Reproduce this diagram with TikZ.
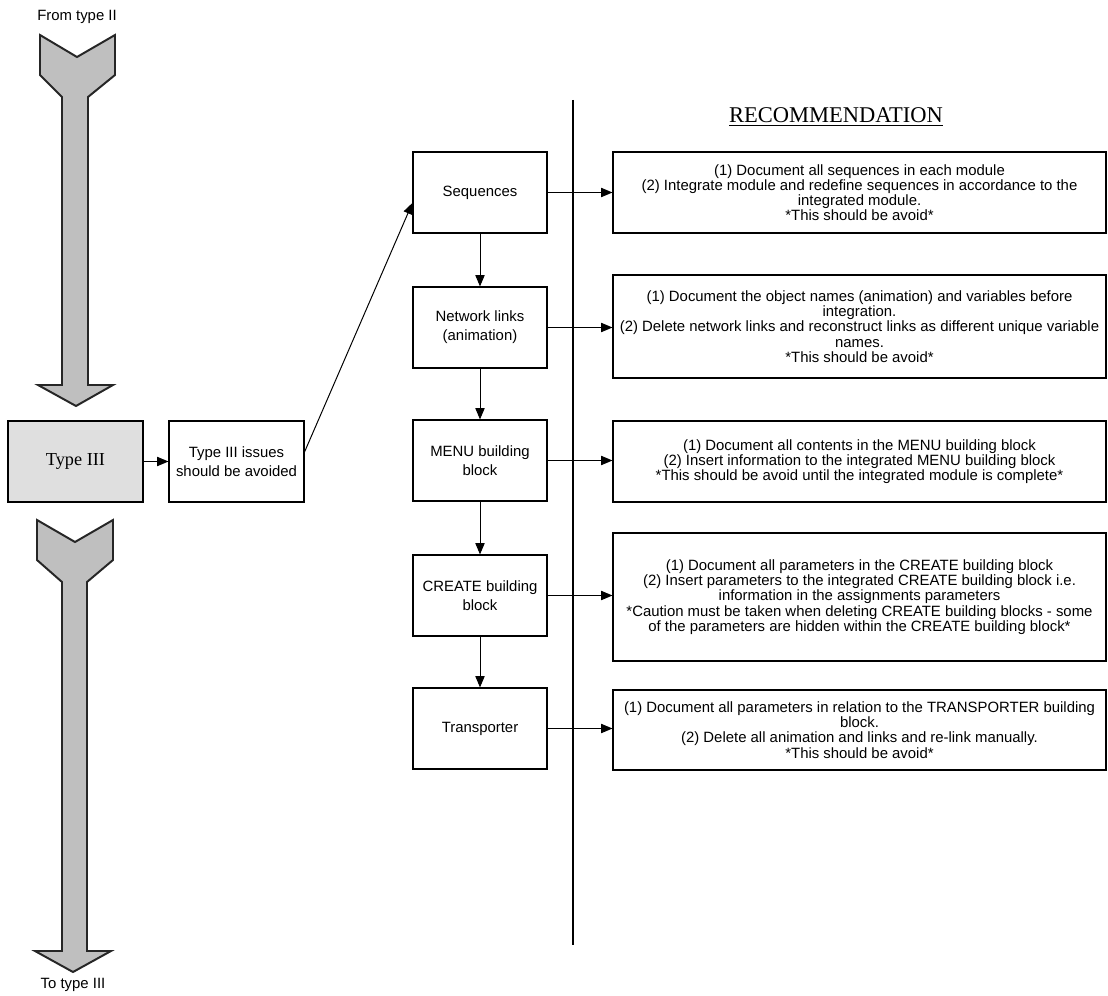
\documentclass[tikz,border=0pt]{standalone}
\usepackage{fontspec}
\setmainfont{Liberation Sans}
\newfontfamily\romanfont{Liberation Serif}
\usetikzlibrary{arrows.meta,calc}

\begin{document}
\begin{tikzpicture}[x=0.25mm,y=-0.25mm,
	conn/.style={-{Triangle[length=2.8mm,width=2.3mm]},line width=0.7pt},
	blk/.style={draw,line width=0.8pt,minimum width=33.5mm,minimum height=20.25mm,align=center,inner sep=1mm,font=\fontsize{10.6}{13.5}\selectfont},
	rec/.style={draw,line width=0.8pt,minimum width=123.25mm,align=center,inner sep=1mm,font=\fontsize{10.6}{10.8}\selectfont},
	bigarrow/.style={draw=black!85,line width=1.4pt,fill=gray!50,line join=miter}]
	\useasboundingbox (0,0) rectangle (1108,996);
%
	% the two wide arrows on the left
	\draw[bigarrow] (40,35) -- (77,57) -- (115,35) -- (115,75) -- (88,97) -- (88,385) -- (113,385)
		-- (76,406) -- (38,385) -- (62,385) -- (62,97) -- (40,75) -- cycle;
	\draw[bigarrow] (37,520) -- (75,542) -- (113,520) -- (113,560) -- (87,582) -- (87,951) -- (111,951)
		-- (73,972) -- (35,951) -- (62,951) -- (62,582) -- (37,560) -- cycle;
	\node[font=\fontsize{10.6}{12}\selectfont] (fromlbl) at (77,17) {From type II};
	\node[font=\fontsize{10.6}{12}\selectfont] (tolbl) at (73,985) {To type III};
%
	\node[blk,fill=gray!25,minimum width=33.75mm,font=\romanfont\fontsize{13}{15}\selectfont] (typeiii) at (75.5,461.5) {Type III};
	\node[blk,minimum width=33.75mm] (issues) at (236.5,461.5) {Type III issues\\should be avoided};
%
	\node[blk] (seq) at (480,192.5) {Sequences};
	\node[blk] (netlinks) at (480,327.5) {Network links\\(animation)};
	\node[blk] (menublk) at (480,460.5) {MENU building\\block};
	\node[blk] (createblk) at (480,595.5) {CREATE building\\block};
	\node[blk] (transp) at (480,728.5) {Transporter};
%
	\coordinate (divtop) at (573,100);
	\coordinate (divbot) at (573,945);
	\draw[line width=0.8pt] (divtop) -- (divbot);
	\node[font=\romanfont\fontsize{16}{18}\selectfont] (rechead) at (836,117) {\underline{RECOMMENDATION}};
%
	\node[rec,minimum height=20.25mm] (rec1) at (859.5,192.5) {(1) Document all sequences in each module\\
		(2) Integrate module and redefine sequences in accordance to the\\integrated module.\\*This should be avoid*};
	\node[rec,minimum height=25.75mm] (rec2) at (859.5,326.5) {(1) Document the object names (animation) and variables before\\
		integration.\\(2) Delete network links and reconstruct links as different unique variable\\names.\\*This should be avoid*};
	\node[rec,minimum height=20.25mm] (rec3) at (859.5,461.5) {(1) Document all contents in the MENU building block\\
		(2) Insert information to the integrated MENU building block\\*This should be avoid until the integrated module is complete*};
	\node[rec,minimum height=32mm] (rec4) at (859.5,597) {(1) Document all parameters in the CREATE building block\\
		(2) Insert parameters to the integrated CREATE building block i.e.\\information in the assignments parameters\\
		*Caution must be taken when deleting CREATE building blocks - some\\of the parameters are hidden within the CREATE building block*};
	\node[rec,minimum height=20mm] (rec5) at (859.5,730) {(1) Document all parameters in relation to the TRANSPORTER building\\
		block.\\(2) Delete all animation and links and re-link manually.\\*This should be avoid*};
%
	\draw[conn] (typeiii) -- (issues);
	\draw[conn] ([yshift=2.4mm]issues.east) -- ([yshift=-2.6mm]seq.west);
	\draw[conn] (seq) -- (netlinks);
	\draw[conn] (netlinks) -- (menublk);
	\draw[conn] (menublk) -- (createblk);
	\draw[conn] (createblk) -- (transp);
	\draw[conn] (seq.east) -- (seq.east -| rec1.west);
	\draw[conn] (netlinks.east) -- (netlinks.east -| rec2.west);
	\draw[conn] (menublk.east) -- (menublk.east -| rec3.west);
	\draw[conn] (createblk.east) -- (createblk.east -| rec4.west);
	\draw[conn] (transp.east) -- (transp.east -| rec5.west);
\end{tikzpicture}
\end{document}
